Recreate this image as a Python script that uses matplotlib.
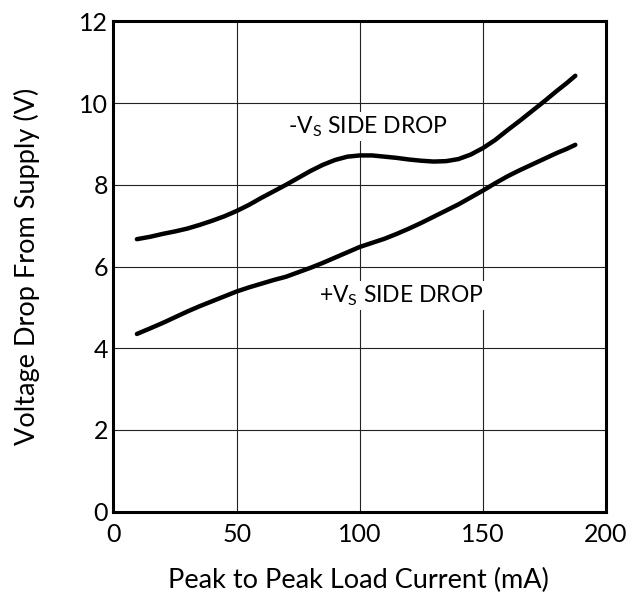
import matplotlib
matplotlib.use('Agg')
import matplotlib.pyplot as plt

plt.rcParams['font.family'] = ['Lato', 'DejaVu Sans']
plt.rcParams['mathtext.fontset'] = 'custom'
plt.rcParams['mathtext.rm'] = 'Lato'

# peak to peak load current (mA)
current = [9.5, 15, 20, 25, 30, 35, 40, 45, 50, 55, 60, 65, 70, 75, 80, 85, 90, 95, 100,
           105, 110, 115, 120, 125, 130, 135, 140, 145, 150, 155, 160, 165, 170, 175, 180, 184, 187.5]
# -Vs side drop (V)
neg_drop = [6.67, 6.73, 6.80, 6.86, 6.93, 7.02, 7.12, 7.23, 7.36, 7.51, 7.68, 7.84, 8.00, 8.17, 8.34, 8.49, 8.61, 8.69, 8.72,
            8.72, 8.69, 8.66, 8.62, 8.59, 8.57, 8.58, 8.63, 8.74, 8.90, 9.10, 9.34, 9.57, 9.81, 10.05, 10.30, 10.49, 10.67]
# +Vs side drop (V)
pos_drop = [4.35, 4.49, 4.62, 4.76, 4.90, 5.03, 5.15, 5.27, 5.39, 5.49, 5.58, 5.67, 5.75, 5.86, 5.97, 6.09, 6.22, 6.35, 6.48,
            6.58, 6.68, 6.80, 6.93, 7.07, 7.22, 7.37, 7.52, 7.69, 7.86, 8.04, 8.21, 8.36, 8.50, 8.64, 8.78, 8.88, 8.98]

x_ticks = [0, 50, 100, 150, 200]
y_ticks = [0, 2, 4, 6, 8, 10, 12]

fig = plt.figure(figsize=(6.34, 5.95), dpi=100)
ax = fig.add_axes([0.179, 0.140, 0.777, 0.824])

ax.plot(current, neg_drop, color='black', lw=3.2, solid_capstyle='round', solid_joinstyle='round', zorder=3)
ax.plot(current, pos_drop, color='black', lw=3.2, solid_capstyle='round', solid_joinstyle='round', zorder=3)

box = dict(facecolor='white', edgecolor='none', pad=1.5)
ax.text(103.4, 9.42, r'-V$_{\mathrm{S}}$ SIDE DROP', fontsize=16.5, ha='center', va='center', bbox=box, zorder=2)
ax.text(116.9, 5.3, r'+V$_{\mathrm{S}}$ SIDE DROP', fontsize=16.5, ha='center', va='center', bbox=box, zorder=2)

ax.set_xlim(0, 200)
ax.set_ylim(0, 12)
ax.set_xticks(x_ticks)
ax.set_yticks(y_ticks)
ax.grid(True, color='#222222', lw=0.8)
ax.set_axisbelow(True)
ax.tick_params(length=0, labelsize=18)
ax.tick_params(axis='x', pad=8)
ax.tick_params(axis='y', pad=4)
for s in ax.spines.values():
    s.set_linewidth(2.2)

ax.set_xlabel('Peak to Peak Load Current (mA)', fontsize=19.5)
ax.set_ylabel('Voltage Drop From Supply (V)', fontsize=19.5)
ax.xaxis.label.set_va('baseline')
ax.xaxis.set_label_coords(0.497, -0.156)
ax.yaxis.label.set_va('center')
ax.yaxis.set_label_coords(-0.175, 0.5)

fig.savefig('out.png', dpi=100)
